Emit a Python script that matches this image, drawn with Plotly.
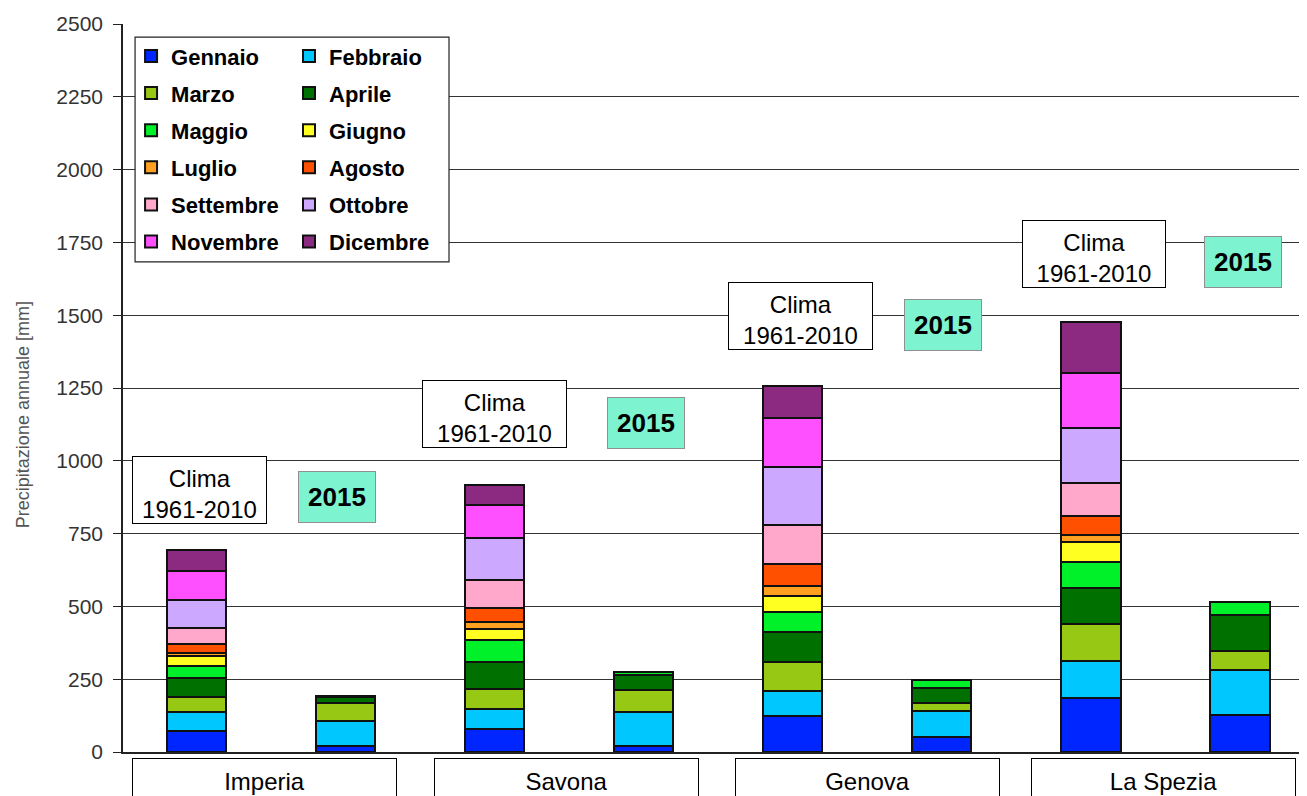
import plotly.graph_objects as go

months = ["Gennaio", "Febbraio", "Marzo", "Aprile", "Maggio", "Giugno",
          "Luglio", "Agosto", "Settembre", "Ottobre", "Novembre", "Dicembre"]
colors = ["#0026FF", "#00C8FF", "#96C814", "#007000", "#00F02A", "#FFFF22",
          "#FFA020", "#FF5000", "#FFA8CC", "#CCA8FF", "#FF50FF", "#8B2A80"]

cities = ["Imperia", "Savona", "Genova", "La Spezia"]

# Climatological monthly precipitation 1961-2010 [mm]
clima_imperia = [73, 63, 52, 65, 43, 34, 11, 29, 55, 96, 102, 71]
clima_savona = [79, 68, 69, 94, 74, 37, 24, 51, 96, 144, 111, 71]
clima_genova = [123, 85, 101, 103, 68, 57, 33, 75, 135, 200, 166, 112]
clima_laspezia = [184, 130, 126, 122, 92, 68, 23, 65, 115, 189, 186, 176]

# 2015 monthly precipitation (January-May) [mm]
y2015_imperia = [21, 85, 63, 20, 3]
y2015_savona = [21, 115, 77, 51, 11]
y2015_genova = [53, 87, 27, 52, 28]
y2015_laspezia = [127, 155, 66, 122, 44]

clima = [clima_imperia, clima_savona, clima_genova, clima_laspezia]
y2015 = [y2015_imperia, y2015_savona, y2015_genova, y2015_laspezia]

FONT = "Liberation Sans, Arial, sans-serif"

fig = go.Figure()
xpos = list(range(8))
for m, (name, col) in enumerate(zip(months, colors)):
    vals = []
    for c in range(4):
        vals.append(clima[c][m])
        vals.append(y2015[c][m] if m < len(y2015[c]) else None)
    fig.add_trace(go.Bar(
        x=xpos, y=vals, name=name, width=0.4,
        marker=dict(color=col, line=dict(color="#111111", width=2)),
        legend="legend" if m % 2 == 0 else "legend2",
        legendgroup=name,
    ))

annotations = []
clima_boxes = [(0.019, 900, 133), (2.0, 1161, 143), (4.055, 1497, 143), (6.024, 1710, 142)]
for x, y, w in clima_boxes:
    annotations.append(dict(
        x=x, y=y, xref="x", yref="y", text="Clima<br>1961-2010", showarrow=False,
        font=dict(family=FONT, size=24, color="black"),
        bgcolor="white", bordercolor="black", borderwidth=1, borderpad=0,
        width=w, height=66, align="center", valign="bottom"))
y_boxes = [(0.943, 875), (3.014, 1130), (5.011, 1466), (7.019, 1682)]
for x, y in y_boxes:
    annotations.append(dict(
        x=x, y=y, xref="x", yref="y", text="<b>2015</b>", showarrow=False,
        font=dict(family=FONT, size=26, color="black"),
        bgcolor="#7DF3CF", bordercolor="#909090", borderwidth=1, borderpad=0,
        width=76, height=50, align="center", valign="middle"))
cat_x = [0.46, 2.48, 4.5, 6.49]
for x, name in zip(cat_x, cities):
    annotations.append(dict(
        x=x, y=-0.0085, xref="x", yref="paper", yanchor="top", text=name,
        showarrow=False, font=dict(family=FONT, size=24, color="black"),
        bgcolor="white", bordercolor="black", borderwidth=1, borderpad=0,
        width=263, height=44, align="center", valign="middle"))
annotations.append(dict(
    x=-0.0845, y=0.464, xref="paper", yref="paper", xanchor="center", yanchor="middle",
    text="Precipitazione annuale [mm]", textangle=-90, showarrow=False,
    font=dict(family=FONT, size=18, color="#555555")))

fig.update_layout(
    width=1299, height=788,
    margin=dict(l=115, r=0, t=16, b=44, autoexpand=False),
    barmode="stack",
    plot_bgcolor="white", paper_bgcolor="white",
    font=dict(family=FONT),
    annotations=annotations,
    shapes=[dict(type="rect", xref="x", yref="y", x0=-0.411, x1=1.695, y0=1683, y1=2455,
                 fillcolor="white", line=dict(color="#222222", width=1.2), layer="above")],
    legend=dict(x=0.0068, y=0.9846, xanchor="left", yanchor="top",
                bgcolor="rgba(0,0,0,0)", borderwidth=0, tracegroupgap=5.5,
                font=dict(family=FONT, size=22, color="black", weight="bold")),
    legend2=dict(x=0.1402, y=0.9846, xanchor="left", yanchor="top",
                 bgcolor="rgba(0,0,0,0)", borderwidth=0, tracegroupgap=5.5,
                 font=dict(family=FONT, size=22, color="black", weight="bold")),
    xaxis=dict(range=[-0.492, 7.451], showticklabels=False, ticks="", showgrid=False,
               zeroline=False, showline=True, linecolor="#222222", linewidth=1.5),
    yaxis=dict(range=[0, 2500], dtick=250, tick0=0, showgrid=True, gridcolor="#333333",
               gridwidth=1.2, zeroline=False, showline=True, linecolor="#222222", linewidth=1.5,
               ticks="outside", ticklen=8, tickcolor="#222222", tickwidth=1.2,
               ticklabelstandoff=6,
               tickfont=dict(family=FONT, size=21, color="#333333")),
)

fig.write_html("out.html")
